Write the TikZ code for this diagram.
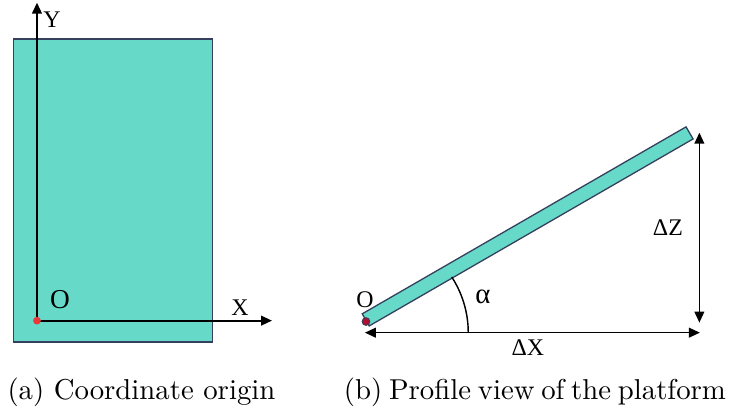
\documentclass[tikz,border=0pt]{standalone}
\usepackage{fontspec}
\newfontfamily\labelfont{Liberation Serif}
\usetikzlibrary{arrows.meta,calc}
\definecolor{platecyan}{HTML}{66D9C8}
\definecolor{plateedge}{HTML}{35405E}
\definecolor{origred}{HTML}{E8383A}
\definecolor{origdark}{HTML}{B0102E}

\begin{document}
\begin{tikzpicture}[
    plate/.style={draw=plateedge,fill=platecyan,line width=0.45pt,inner sep=0pt},
    axis/.style={line width=0.6pt,-{Triangle[width=3.4pt,length=3.8pt]}},
    dim/.style={line width=0.5pt,{Triangle[width=3.4pt,length=3.8pt]}-{Triangle[width=3.4pt,length=3.8pt]}},
    dot/.style={circle,draw=plateedge,line width=0.3pt,minimum size=2.7pt,inner sep=0pt},
    lbl/.style={font=\labelfont\fontsize{8.3}{9}\selectfont,inner sep=0pt},
    caption/.style={font=\fontsize{10}{12}\selectfont,inner sep=0pt}]
  \useasboundingbox (0,0) rectangle (8.91,5.08);

  % (a) plate seen from above
  \node[plate,anchor=south west,minimum width=2.432cm,minimum height=3.703cm] (top) at (0.159,0.892) {};
  \coordinate (oa) at (0.452,1.161);
  \coordinate (ya) at (0.452,5.047);
  \coordinate (xa) at (3.324,1.161);
  \draw[axis] (oa) -- (ya);
  \draw[axis] (oa) -- (xa);
  \node[dot,fill=origred,draw=none] (dota) at (oa) {};
  \node[lbl] (ylab) at (0.635,4.839) {Y};
  \node[lbl,font=\labelfont\fontsize{9.5}{10}\selectfont] (olab) at (0.733,1.418) {O};
  \node[lbl] (xlab) at (2.933,1.320) {X};

  % (b) profile of the tilted plate
  \node[plate,rotate=30,minimum width=4.57cm,minimum height=0.171cm] (bar) at (6.449,2.313) {};
  \coordinate (ob) at (4.473,1.150);
  \node[dot,fill=origdark] (dotb) at (ob) {};
  \coordinate (xl) at (4.460,1.014);
  \coordinate (xr) at (8.554,1.014);
  \coordinate (zt) at (8.548,3.458);
  \coordinate (zb) at (8.548,1.137);
  \coordinate (ac) at (4.473,1.014);
  \draw[dim] (xl) -- (xr);
  \draw[dim] (zb) -- (zt);
  \draw[line width=0.5pt] ($(ac)+(1.25,0)$) arc[start angle=0,end angle=33,radius=1.25];
  \node[lbl] (olbb) at (4.460,1.418) {O};
  \node[lbl,font=\labelfont\fontsize{10}{11}\selectfont] (alpha) at (5.902,1.454) {α};
  \node[lbl] (dz) at (8.163,2.297) {ΔZ};
  \node[lbl] (dx) at (6.452,0.831) {ΔX};

  \node[caption] (capa) at (1.729,0.281) {(a) Coordinate origin};
  \node[caption] (capb) at (6.538,0.281) {\spaceskip=2.35pt (b) Profile view of the platform};
\end{tikzpicture}
\end{document}
